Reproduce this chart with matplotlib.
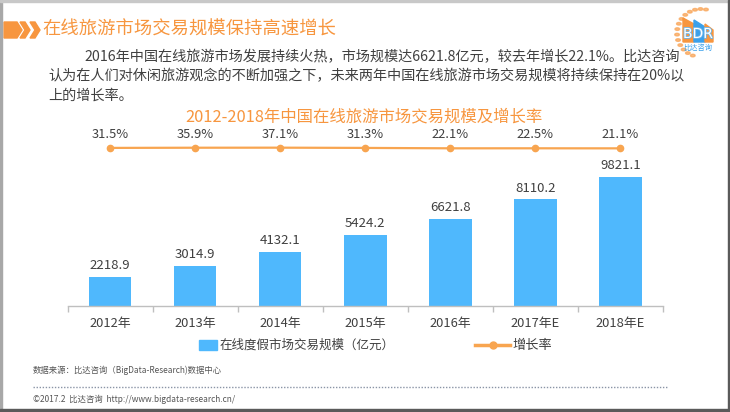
import matplotlib
matplotlib.use("Agg")
import matplotlib.pyplot as plt
import matplotlib.patheffects as pe
import numpy as np
from matplotlib.patches import Rectangle, Polygon, Circle
from matplotlib.lines import Line2D

plt.rcParams['font.family'] = ['Noto Sans CJK SC', 'DejaVu Sans']

# ---- data ----
years = ["2012年", "2013年", "2014年", "2015年", "2016年", "2017年E", "2018年E"]
market_size = [2218.9, 3014.9, 4132.1, 5424.2, 6621.8, 8110.2, 9821.1]
growth_rate = [31.5, 35.9, 37.1, 31.3, 22.1, 22.5, 21.1]
bar_legend = "在线度假市场交易规模（亿元）"
line_legend = "增长率"
page_title = "在线旅游市场交易规模保持高速增长"
chart_title = "2012-2018年中国在线旅游市场交易规模及增长率"
para_lines = [
    "2016年中国在线旅游市场发展持续火热，市场规模达6621.8亿元，较去年增长22.1%。比达咨询",
    "认为在人们对休闲旅游观念的不断加强之下，未来两年中国在线旅游市场交易规模将持续保持在20%以",
    "上的增长率。",
]
source_text = "数据来源：比达咨询（BigData-Research)数据中心"
footer_text = "©2017.2  比达咨询  http://www.bigdata-research.cn/"

W, H = 730, 412
BAR_C = '#4FB8FD'
LINE_C = '#F8A550'
ORANGE = '#F7963F'
LOGO_BLUE = '#3AA0EA'
TXT = '#404040'

def fx(x):
    return x / W

def fy(y):
    return 1 - y / H

fig = plt.figure(figsize=(W / 100, H / 100), dpi=100)
fig.patch.set_facecolor('white')

# ---- main axes ----
ax_left, ax_right = 67.5, 663
ax_bottom, ax_top = 305.7, 135
ax = fig.add_axes([fx(ax_left), fy(ax_bottom), fx(ax_right - ax_left), (ax_bottom - ax_top) / H])
x = np.arange(len(years))
bars = ax.bar(x, market_size, width=0.5, color=BAR_C, zorder=2)
ax.set_xlim(-0.5, len(years) - 0.5)
ax.set_ylim(0, 13030)
for xi, v in zip(x, market_size):
    ax.annotate(f"{v:.1f}", (xi, v), xytext=(0, 3.5), textcoords='offset points',
                ha='center', va='bottom', fontsize=9.5, color=TXT)
for s in ['top', 'right', 'left']:
    ax.spines[s].set_visible(False)
ax.spines['bottom'].set_color('#BFBFBF')
ax.spines['bottom'].set_linewidth(1)
ax.set_yticks([])
ax.set_xticks(x)
ax.set_xticklabels(years, fontsize=9.3, color=TXT)
ax.tick_params(axis='x', which='major', length=0, pad=8)
ax.set_xticks(np.arange(-0.5, len(years), 1.0), minor=True)
ax.tick_params(axis='x', which='minor', length=4, color='#BFBFBF', width=1)
ax.patch.set_alpha(0)

# growth rate on a secondary axis (very wide range -> nearly flat line as in reference)
tw = ax.twinx()
tw.set_ylim(30 - 0.924 * 4000, 30 + 0.076 * 4000)
tw.plot(x, growth_rate, color=LINE_C, lw=1.6, marker='o', markersize=4.5, zorder=3)
for xi, r in zip(x, growth_rate):
    tw.annotate(f"{r:.1f}%", (xi, r), xytext=(0, 5), textcoords='offset points',
                ha='center', va='bottom', fontsize=9.3, color=TXT)
tw.axis('off')

# ---- page title with chevrons ----
fig.patches.append(Polygon([(fx(4), fy(22)), (fx(17), fy(22)), (fx(22), fy(30)),
                            (fx(17), fy(38)), (fx(4), fy(38))],
                           closed=True, transform=fig.transFigure, color=ORANGE))
for x0 in (20, 30):
    fig.patches.append(Polygon([(fx(x0), fy(22)), (fx(x0 + 5), fy(22)), (fx(x0 + 10), fy(30)),
                                (fx(x0 + 5), fy(38)), (fx(x0), fy(38)), (fx(x0 + 5), fy(30))],
                               closed=True, transform=fig.transFigure, color=ORANGE))
fig.text(fx(42), fy(30), page_title, fontsize=13.2, color=ORANGE, ha='left', va='center')

# ---- paragraph ----
fig.text(fx(84), fy(57), para_lines[0], fontsize=10.2, color=TXT, ha='left', va='center')
fig.text(fx(48), fy(76.5), para_lines[1], fontsize=10.2, color=TXT, ha='left', va='center')
fig.text(fx(48), fy(96), para_lines[2], fontsize=10.2, color=TXT, ha='left', va='center')

# ---- chart title ----
fig.text(fx(364), fy(117), chart_title, fontsize=11.8, color=ORANGE, ha='center', va='center')

# ---- legend ----
fig.patches.append(Rectangle((fx(199), fy(350)), fx(18), 10 / H, transform=fig.transFigure,
                             color=BAR_C))
fig.text(fx(220), fy(345), bar_legend, fontsize=9, color=TXT, ha='left', va='center')
fig.lines.append(Line2D([fx(475), fx(510)], [fy(345), fy(345)], transform=fig.transFigure,
                        color=LINE_C, lw=2.5))
fig.lines.append(Line2D([fx(492.5)], [fy(345)], transform=fig.transFigure, color=LINE_C,
                        marker='o', markersize=5))
fig.text(fx(512), fy(345), line_legend, fontsize=9.5, color=TXT, ha='left', va='center')

# ---- source & footer ----
fig.text(fx(33), fy(370), source_text, fontsize=6, color='#555555', ha='left', va='center')
fig.lines.append(Line2D([fx(33), fx(668)], [fy(387), fy(387)], transform=fig.transFigure,
                        color='#8A94A6', lw=1, linestyle=(0, (1, 1.2))))
fig.text(fx(33), fy(399), footer_text, fontsize=6, color='#555555', ha='left', va='center')

# ---- logo ----
ang = np.deg2rad(np.linspace(78, 250, 14))
cx, cy, rr = 701, 33, 24
for a in ang:
    fig.patches.append(Circle((fx(cx + rr * np.cos(a)), fy(cy - rr * np.sin(a))), 1.3 / H,
                              transform=fig.transFigure, color='#F9A65A', alpha=0.75))
fig.patches.append(Polygon([(fx(683), fy(42)), (fx(683), fy(18)), (fx(694), fy(24)),
                            (fx(694), fy(42))], closed=True, transform=fig.transFigure,
                           color=ORANGE))
fig.patches.append(Polygon([(fx(694), fy(42)), (fx(694), fy(20)), (fx(705), fy(27)),
                            (fx(705), fy(42))], closed=True, transform=fig.transFigure,
                           color=LOGO_BLUE))
fig.patches.append(Polygon([(fx(705), fy(42)), (fx(705), fy(24)), (fx(713), fy(30)),
                            (fx(713), fy(42))], closed=True, transform=fig.transFigure,
                           color=ORANGE))
fig.text(fx(698), fy(34), "BDR", fontsize=10, color='white', ha='center', va='center',
         family=['DejaVu Sans'],
         path_effects=[pe.withStroke(linewidth=1.2, foreground='#6FB6E8')])
fig.text(fx(698), fy(48), "比达咨询", fontsize=5.2, color=LOGO_BLUE, ha='center', va='center')

# ---- page border ----
fig.patches.append(Rectangle((0, 0), fx(2), 1, transform=fig.transFigure, color='#A8A8A8'))
fig.patches.append(Rectangle((0, fy(1.5)), 1, 1.5 / H, transform=fig.transFigure, color='#C8C8C8'))
fig.patches.append(Rectangle((fx(727.5), 0), fx(2.5), 1, transform=fig.transFigure, color='#5A5A5A'))
fig.patches.append(Rectangle((0, 0), 1, 3.5 / H, transform=fig.transFigure, color='#5A5A5A'))

fig.savefig("out.png", dpi=100)
